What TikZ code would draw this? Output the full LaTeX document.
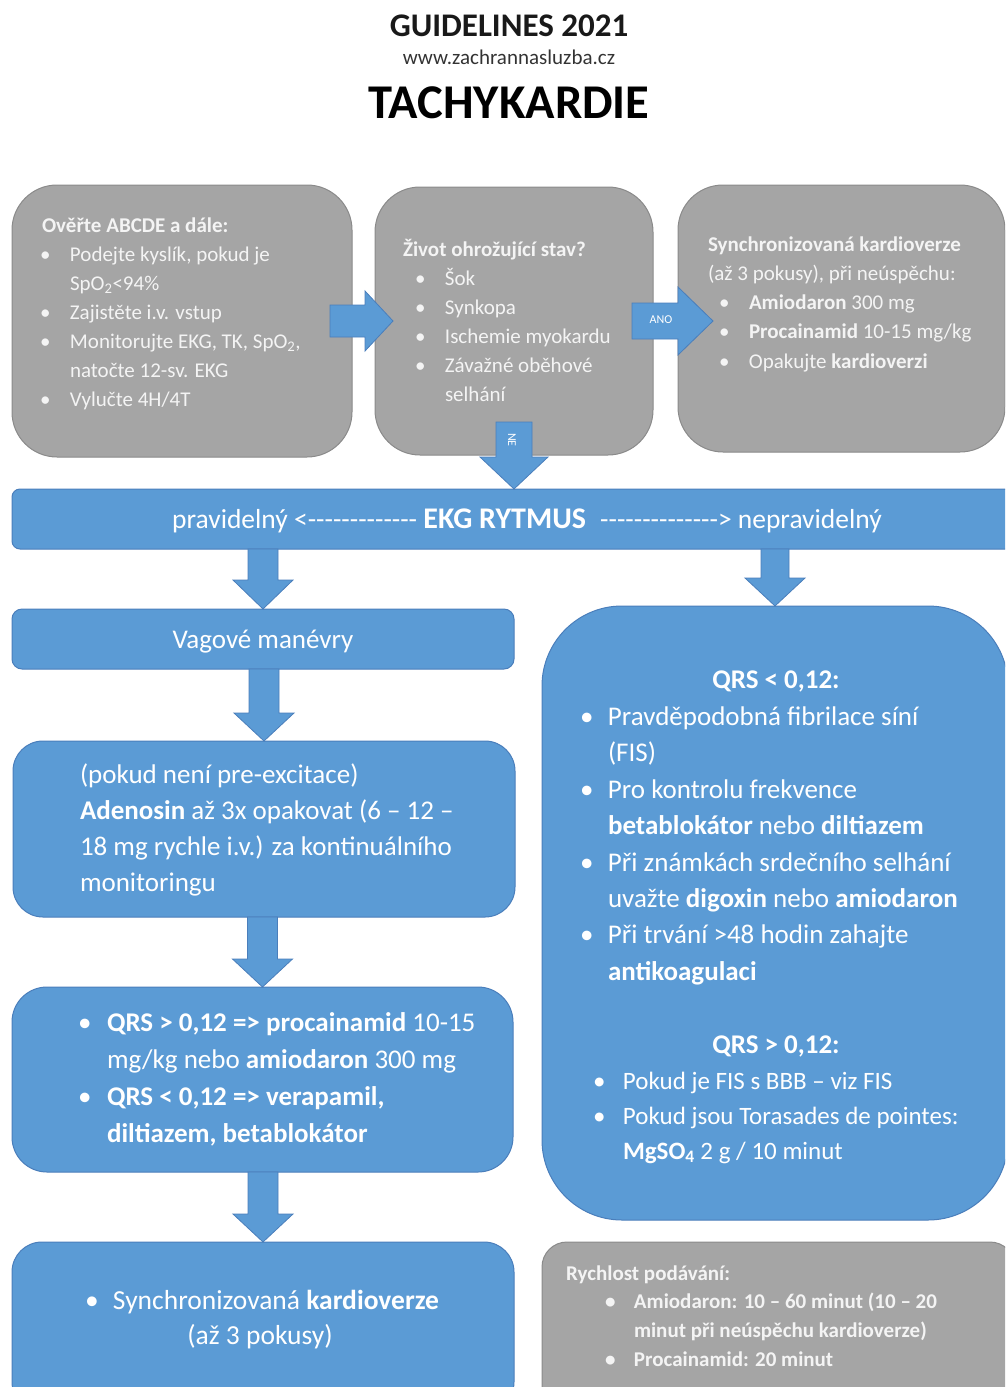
\documentclass[tikz,border=0pt]{standalone}
\usepackage{fontspec}
\setmainfont{Carlito}[Ligatures=TeXOff]
\usetikzlibrary{calc}
\definecolor{oblue}{HTML}{5B9BD5}
\definecolor{oblueline}{HTML}{4A7EBB}
\definecolor{ogray}{HTML}{A5A5A5}
\definecolor{ograyline}{HTML}{8A8A8A}
\definecolor{gtext}{HTML}{F4F4F4}
\newcommand\bul[1]{\makebox[#1][l]{•}}
\newcommand\ind[1]{\hspace*{#1}}
\newcommand\arrdown[5]{%
  \path[barrow] let \p1=(#1), \p2=(#2) in
   (\x2-#3,\y1) -- (\x2+#3,\y1) -- (\x2+#3,\y2+#5) -- (\x2+#4,\y2+#5) -- (\x2,\y2)
   -- (\x2-#4,\y2+#5) -- (\x2-#3,\y2+#5) -- cycle;}
\newcommand\arrright[5]{%
  \path[barrow] let \p1=(#1), \p2=(#2) in
   (\x1,\y2+#3) -- (\x2-#5,\y2+#3) -- (\x2-#5,\y2+#4) -- (\x2,\y2)
   -- (\x2-#5,\y2-#4) -- (\x2-#5,\y2-#3) -- (\x1,\y2-#3) -- cycle;}
\tikzset{
  gbox/.style={rectangle, draw=ograyline, fill=ogray, line width=1pt, inner sep=0pt, outer sep=0pt, anchor=north west},
  bbox/.style={rectangle, draw=oblueline, fill=oblue, line width=1pt, inner sep=0pt, outer sep=0pt, anchor=north west},
  barrow/.style={fill=oblue, draw=oblueline, line width=0.8pt},
  txt/.style={inner sep=0pt, outer sep=0pt, anchor=north west, align=left},
  gtxt/.style={txt, text=gtext, font=\fontsize{21}{29}\selectfont},
  wtxt/.style={inner sep=0pt, outer sep=0pt, text=white},
}
\begin{document}
\begin{tikzpicture}[x=1pt,y=-1pt]
\useasboundingbox (0,0) rectangle (1005,1387);
\clip (0,0) rectangle (1005,1387);
% titles
\node[inner sep=0pt, font=\bfseries\fontsize{33}{36}\selectfont, anchor=base, text=black!90] (t1) at (509,36) {GUIDELINES 2021};
\node[inner sep=0pt, font=\fontsize{21}{24}\selectfont, anchor=base, text=black!80] (t2) at (509,64) {www.zachrannasluzba.cz};
\node[inner sep=0pt, font=\bfseries\fontsize{48.5}{50}\selectfont, anchor=base] (t3) at (509,118) {TACHYKARDIE};
% boxes
\node[gbox, minimum width=340pt, minimum height=272pt, rounded corners=45pt] (b1) at (12,185) {};
\node[gbox, minimum width=278pt, minimum height=268pt, rounded corners=45pt] (b2) at (375,187) {};
\node[gbox, minimum width=327pt, minimum height=267pt, rounded corners=45pt] (b3) at (678,185) {};
\node[bbox, minimum width=1003pt, minimum height=60pt, rounded corners=8pt] (bar) at (12,489) {};
\node[bbox, minimum width=502pt, minimum height=60pt, rounded corners=10pt] (vag) at (12,609) {};
\node[bbox, minimum width=502pt, minimum height=176pt, rounded corners=30pt] (aden) at (13,741) {};
\node[bbox, minimum width=501pt, minimum height=185pt, rounded corners=35pt] (qrs) at (12,987) {};
\node[bbox, minimum width=502pt, minimum height=170pt, rounded corners=30pt] (kard) at (12,1242) {};
\node[bbox, minimum width=466pt, minimum height=614pt, rounded corners=80pt] (rbox) at (542,606) {};
\node[gbox, minimum width=473pt, minimum height=170pt, rounded corners=25pt] (rate) at (542,1242) {};
% block arrows
\arrright{[xshift=-22pt]b1.east}{[xshift=18pt]b2.west}{16pt}{30pt}{28pt}
\arrright{[xshift=-21pt]b2.east}{[xshift=35pt]b3.west |- b2.east}{18pt}{34pt}{35pt}
\arrdown{[yshift=33pt]b2.south}{b2.south |- bar.north}{18pt}{34pt}{32pt}
\arrdown{vag.north |- bar.south}{vag.north}{15pt}{30pt}{29pt}
\arrdown{rbox.north |- bar.south}{rbox.north}{14pt}{30pt}{28pt}
\arrdown{vag.south}{aden.north}{15pt}{30pt}{28pt}
\arrdown{aden.south}{qrs.north}{15pt}{30pt}{28pt}
\arrdown{qrs.south}{kard.north}{15pt}{30pt}{28pt}
% arrow labels
\node[wtxt, font=\fontsize{12}{14}\selectfont] (ano) at (661,320) {ANO};
\node[wtxt, font=\fontsize{12}{14}\selectfont, rotate=-90] (ne) at (512,440) {NE};
% gray box texts
\node[gtxt] (b1t) at (40,211.7) {\strut\ind{2pt}\textbf{Ověřte ABCDE a dále:}\\
\bul{30pt}Podejte kyslík, pokud je\\
\ind{30pt}SpO\textsubscript{2}<94\%\\
\bul{30pt}Zajistěte i.v. vstup\\
\bul{30pt}Monitorujte EKG, TK, SpO\textsubscript{2},\\
\ind{30pt}natočte 12-sv. EKG\\
\bul{30pt}Vylučte 4H/4T};
\node[gtxt] (b2t) at (403,235.7) {\strut\textbf{Život ohrožující stav?}\\
\ind{12pt}\bul{30pt}Šok\\
\ind{12pt}\bul{30pt}Synkopa\\
\ind{12pt}\bul{30pt}Ischemie myokardu\\
\ind{12pt}\bul{30pt}Závažné oběhové\\
\ind{42pt}selhání};
\node[gtxt, font=\fontsize{21}{29.3}\selectfont] (b3t) at (708,230.5) {\strut\textbf{Synchronizovaná kardioverze}\\
(až 3 pokusy), při neúspěchu:\\
\ind{11pt}\bul{30pt}\textbf{Amiodaron} 300 mg\\
\ind{11pt}\bul{30pt}\textbf{Procainamid} 10-15 mg/kg\\
\ind{11pt}\bul{30pt}Opakujte \textbf{kardioverzi}};
% bar text
\node[wtxt, anchor=base, font=\fontsize{27.5}{30}\selectfont] (bart) at (527,528) {pravidelný <------------- {\fontsize{30}{30}\selectfont\textbf{EKG RYTMUS}}\hspace{8pt} --------------> nepravidelný};
% left column texts
\node[wtxt, anchor=base, font=\fontsize{27}{30}\selectfont] (vagt) at (263,648) {Vagové manévry};
\node[txt, text=white, font=\fontsize{27}{36.3}\selectfont] (adent) at (80,757.6) {\strut(pokud není pre-excitace)\\
\textbf{Adenosin} až 3x opakovat (6 – 12 –\\
18 mg rychle i.v.) za kontinuálního\\
monitoringu};
\node[txt, text=white, font=\fontsize{27}{37}\selectfont] (qrst) at (78,1006) {\strut\bul{29pt}\textbf{QRS > 0,12 => procainamid} 10-15\\
\ind{29pt}mg/kg nebo \textbf{amiodaron} 300 mg\\
\bul{29pt}\textbf{QRS < 0,12 => verapamil,}\\
\ind{29pt}\textbf{diltiazem, betablokátor}};
\node[wtxt, anchor=base west, font=\fontsize{27.5}{30}\selectfont] (kard1) at (85,1309) {\bul{28pt}Synchronizovaná \textbf{kardioverze}};
\node[wtxt, anchor=base, font=\fontsize{27.5}{30}\selectfont] (kard2) at (260,1344) {(až 3 pokusy)};
% right box texts
\node[wtxt, anchor=base, font=\bfseries\fontsize{27}{30}\selectfont] (rq1h) at (776,688) {QRS < 0,12:};
\node[txt, text=white, font=\fontsize{27}{36.4}\selectfont] (rq1) at (580,700) {\strut\bul{28pt}Pravděpodobná fibrilace síní\\
\ind{28pt}(FIS)\\
\bul{28pt}Pro kontrolu frekvence\\
\ind{28pt}\textbf{betablokátor} nebo \textbf{diltiazem}\\
\bul{28pt}Při známkách srdečního selhání\\
\ind{28pt}uvažte \textbf{digoxin} nebo \textbf{amiodaron}\\
\bul{28pt}Při trvání >48 hodin zahajte\\
\ind{28pt}\textbf{antikoagulaci}};
\node[wtxt, anchor=base, font=\bfseries\fontsize{27}{30}\selectfont] (rq2h) at (776,1053) {QRS > 0,12:};
\node[txt, text=white, font=\fontsize{25}{35}\selectfont] (rq2) at (593,1064.5) {\strut\bul{30pt}Pokud je FIS s BBB – viz FIS\\
\bul{30pt}Pokud jsou Torasades de pointes:\\
\ind{30pt}\textbf{MgSO\textsubscript{4}} 2 g / 10 minut};
% rate box
\node[gtxt, font=\bfseries\fontsize{21}{28.7}\selectfont] (ratet) at (566,1260) {\strut Rychlost podávání:\\
\ind{39pt}\bul{29pt}Amiodaron: 10 – 60 minut (10 – 20\\
\ind{68pt}minut při neúspěchu kardioverze)\\
\ind{39pt}\bul{29pt}Procainamid: 20 minut};
\end{tikzpicture}
\end{document}
